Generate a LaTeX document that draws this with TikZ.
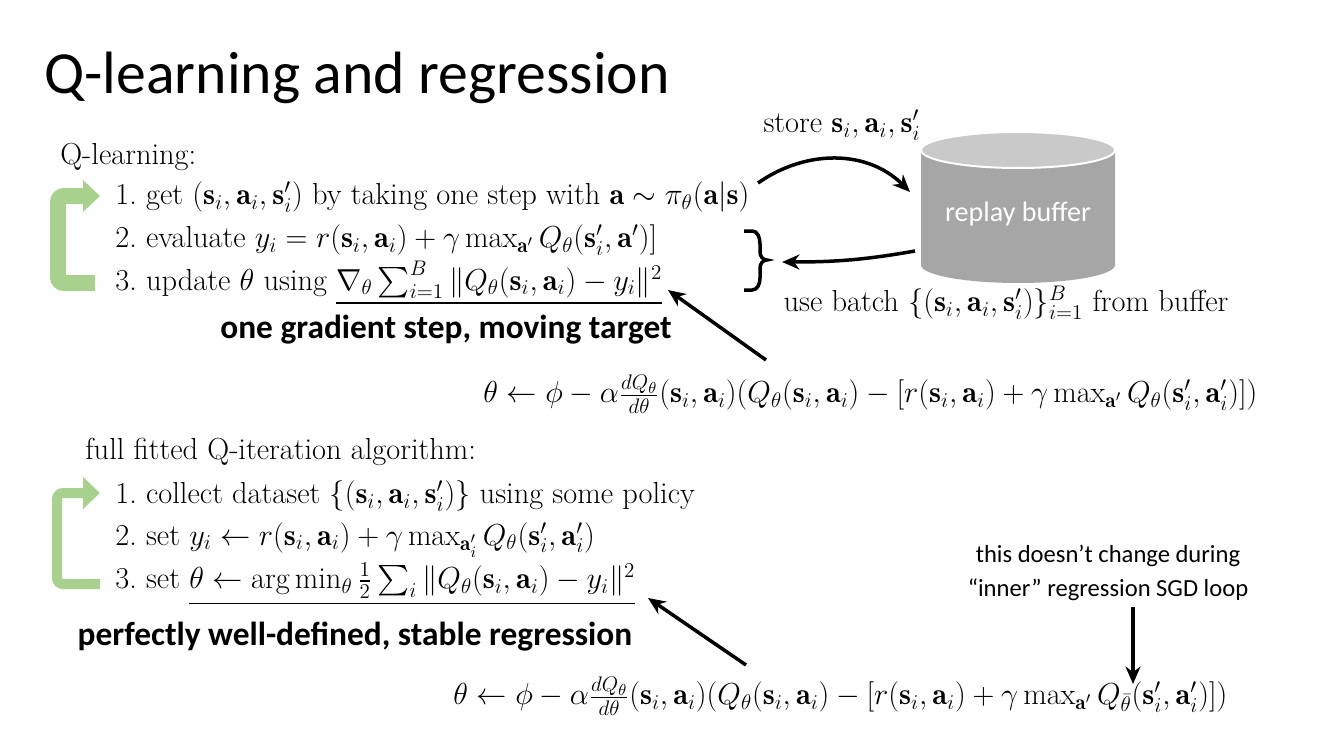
\documentclass[tikz,border=0pt]{standalone}
\usepackage{amsmath,amssymb}
\usepackage{fontspec}
\newfontfamily\slidefont{Carlito}
\usetikzlibrary{arrows.meta}
\definecolor{loopgreen}{HTML}{A9D18E}
\definecolor{loopedge}{HTML}{8DBB6E}
\definecolor{bufbody}{HTML}{A6A6A6}
\definecolor{buftop}{HTML}{C9C9C9}
\tikzset{
  body/.style={anchor=west,inner sep=0pt,font=\fontsize{17.3}{20}\selectfont},
  bold/.style={inner sep=0pt,font=\slidefont\bfseries\fontsize{19}{22}\selectfont},
  note/.style={inner sep=0pt,font=\slidefont\fontsize{14}{17}\selectfont},
  pointer/.style={line width=0.07cm,-{Stealth[length=0.35cm,width=0.3cm]}},
  loop/.style={draw=loopedge,line width=#1,-{Triangle[length=0.34cm,width=0.62cm]},color=loopgreen,rounded corners=0.12cm}
}
\begin{document}
\begin{tikzpicture}[x=0.02cm,y=-0.02cm]
  \useasboundingbox (0,0) rectangle (1334,750);
  \newcommand{\bs}{\mathbf{s}}
  \newcommand{\ba}{\mathbf{a}}

  % Title
  \node (title) [anchor=west,inner sep=0pt,font=\slidefont\fontsize{34}{38}\selectfont] at (44,78) {Q-learning and regression};

  % Q-learning block
  \node (qhead) [body] at (60,157) {Q-learning:};
  \node (qone) [body] at (115,197) {1.\ get $(\bs_i,\ba_i,\bs'_i)$ by taking one step with $\ba\sim\pi_\theta(\ba|\bs)$};
  \node (qtwo) [body] at (115,240) {2.\ evaluate $y_i=r(\bs_i,\ba_i)+\gamma\max_{\ba'}Q_\theta(\bs'_i,\ba')]$};
  \node (qthree) [body] at (115,283) {3.\ update $\theta$ using $\underline{\nabla_\theta\sum_{i=1}^B\|Q_\theta(\bs_i,\ba_i)-y_i\|^2}$};
  \node (qbold) [bold] at (446,330) {one gradient step, moving target};

  % Drawing green loop of Q-learning
  \draw [loop=0.32cm] (95,283) -- (58,283) -- (58,196) -- (100,196);

  % Drawing replay buffer
  \fill [bufbody] (921,150) -- (921,265) arc [start angle=180,end angle=0,x radius=97,y radius=18] -- (1115,150) -- cycle;
  \draw [fill=buftop,draw=white,line width=0.04cm] (1018,150) ellipse [x radius=97,y radius=18];
  \node (buffer) [text=white,font=\slidefont\fontsize{16}{19}\selectfont] at (1018,214) {replay buffer};
  \node (store) [inner sep=0pt,font=\fontsize{17.3}{20}\selectfont] at (842,125) {store $\bs_i,\ba_i,\bs'_i$};
  \node (batch) [inner sep=0pt,font=\fontsize{17.3}{20}\selectfont] at (1006,303) {use batch $\{(\bs_i,\ba_i,\bs'_i)\}_{i=1}^B$ from buffer};
  \coordinate (brace) at (762,260);
  \draw [line width=0.07cm] (744,231) -- (752,231) to[out=0,in=90] (760,244) -- (760,252) to[out=270,in=180] (767,260) to[out=180,in=90] (760,268) -- (760,278) to[out=270,in=0] (752,290) -- (744,290);
  \draw [pointer] (758,183) to[out=35,in=135] (910,192);
  \draw [pointer] (915,251) to[out=190,in=0] (782,262);

  % Q-learning update
  \node (qeq) [body] at (483,394) {$\theta\leftarrow\phi-\alpha\frac{dQ_\theta}{d\theta}(\bs_i,\ba_i)(Q_\theta(\bs_i,\ba_i)-[r(\bs_i,\ba_i)+\gamma\max_{\ba'}Q_\theta(\bs'_i,\ba'_i)])$};
  \coordinate (qtip) at (668,290);
  \draw [pointer] (766,360) -- (qtip);

  % Fitted Q-iteration block
  \node (fhead) [body] at (85,452) {full fitted Q-iteration algorithm:};
  \node (fone) [body] at (115,496) {1.\ collect dataset $\{(\bs_i,\ba_i,\bs'_i)\}$ using some policy};
  \node (ftwo) [body] at (115,540) {2.\ set $y_i\leftarrow r(\bs_i,\ba_i)+\gamma\max_{\ba'_i}Q_\theta(\bs'_i,\ba'_i)$};
  \node (fthree) [body] at (115,584) {3.\ set $\underline{\theta\leftarrow\arg\min_\theta\frac12\sum_i\|Q_\theta(\bs_i,\ba_i)-y_i\|^2}$};
  \node (fbold) [bold] at (355,637) {perfectly well-defined, stable regression};

  % Drawing green loop of fitted Q-iteration
  \draw [loop=0.2cm] (100,584) -- (57,584) -- (57,493) -- (100,493);

  % Fitted Q-iteration update
  \node (feq) [body] at (453,696) {$\theta\leftarrow\phi-\alpha\frac{dQ_\theta}{d\theta}(\bs_i,\ba_i)(Q_\theta(\bs_i,\ba_i)-[r(\bs_i,\ba_i)+\gamma\max_{\ba'}Q_{\bar\theta}(\bs'_i,\ba'_i)])$};
  \coordinate (ftip) at (648,598);
  \draw [pointer] (746,665) -- (ftip);

  % Note on target
  \node (note) [note,align=center] at (1108,573) {this doesn’t change during\\[2pt]“inner” regression SGD loop};
  \coordinate (notetip) at (1133,684);
  \draw [pointer] (1133,607) -- (notetip);
\end{tikzpicture}
\end{document}
